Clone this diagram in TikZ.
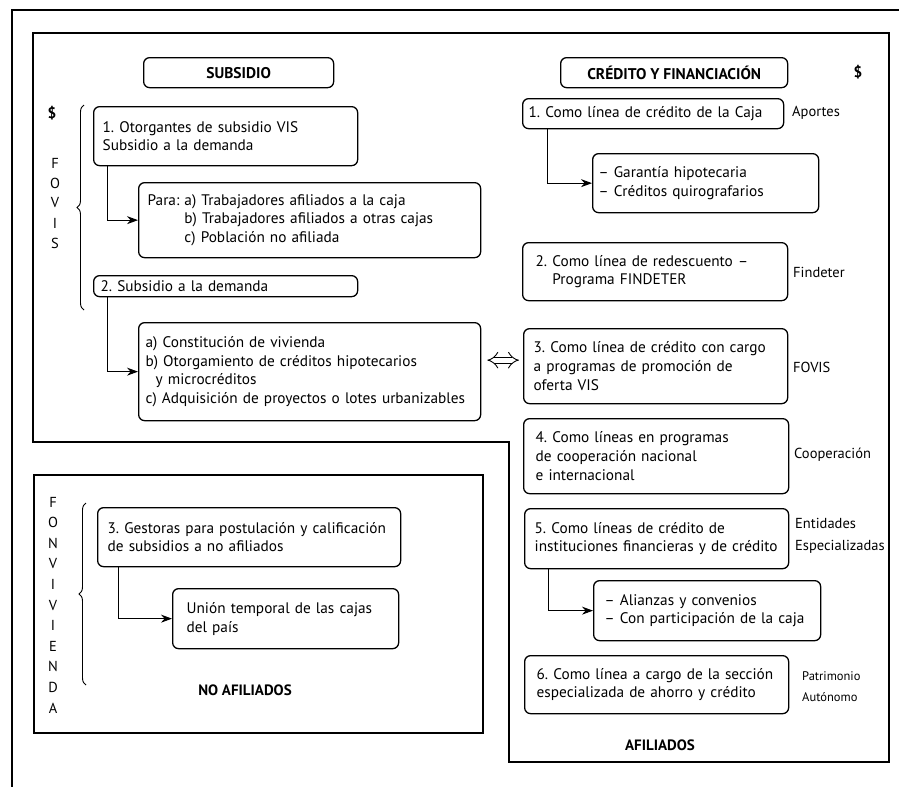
\documentclass[tikz,border=0pt]{standalone}
\usepackage{fontspec}
\setmainfont{PT Sans}
\frenchspacing
\usetikzlibrary{arrows.meta,decorations.pathreplacing,calc}
\newcommand{\boxfont}{\fontsize{15.3}{18.8}\selectfont}
\newcommand{\sidefont}{\fontsize{14.5}{22}\selectfont}
\newcommand{\smallside}{\fontsize{12.5}{21}\selectfont}
\begin{document}
\begin{tikzpicture}[x=1pt,y=-1pt,
  frame/.style={line width=1.2pt},
  box/.style={draw, rounded corners=6pt, line width=1.3pt, anchor=north west,
              align=left, inner ysep=0pt, font=\boxfont},
  titlebox/.style={draw, rounded corners=6pt, line width=1.3pt, anchor=north west,
              inner sep=0pt, font=\fontsize{15.5}{18}\selectfont\bfseries},
  conn/.style={line width=1pt, -{Stealth[length=11pt,width=8pt]}},
  dbl/.style={double, double distance=5pt, line width=0.9pt, {Implies}-{Implies}},
  brc/.style={line width=0.9pt, decorate, decoration={brace, amplitude=7pt}},
  side/.style={anchor=west, align=left, inner sep=0pt, font=\sidefont},
  vletter/.style={inner sep=0pt, font=\fontsize{14.5}{14.5}\selectfont},
  label/.style={inner sep=0pt, font=\fontsize{15}{17}\selectfont\bfseries}]
\useasboundingbox (0,0) rectangle (899,787);
\fill[white] (0,0) rectangle (899,787);

% frames
\draw[frame] (899,10) -- (12,10) -- (12,787);
\draw[frame] (33,33) -- (889,33) -- (889,762) -- (509,762) -- (509,442) -- (33,442) -- cycle;
\draw[frame] (34,475) rectangle (483,733);

% headings
\node[titlebox, minimum width=190pt, minimum height=30pt] (sub) at (143,57) {SUBSIDIO};
\node[titlebox, minimum width=227pt, minimum height=30pt] (cred) at (560,57) {CRÉDITO Y FINANCIACIÓN};

% subsidy column
\node[box, inner xsep=9pt, text width=246pt, minimum height=59pt] (b1) at (93,106)
  {1. Otorgantes de subsidio VIS\\Subsidio a la demanda};
\node[box, inner xsep=9pt, text width=324pt, minimum height=75pt] (para) at (138,182)
  {\mbox{Para: a) Trabajadores afiliados a la caja}\\\mbox{\phantom{Para: }b) Trabajadores afiliados a otras cajas}\\\mbox{\phantom{Para: }c) Población no afiliada}};
\node[box, inner xsep=7pt, text width=250pt, minimum height=21pt] (b2) at (93,275)
  {2. Subsidio a la demanda};
\node[box, inner xsep=7pt, text width=328pt, minimum height=98pt] (ba) at (138,322)
  {a) Constitución de vivienda\\\mbox{b) Otorgamiento de créditos hipotecarios}\\\hspace*{10pt}y microcréditos\\\mbox{c) Adquisición de proyectos o lotes urbanizables}};

% credit column
\node[box, inner xsep=6pt, text width=249pt, minimum height=30pt] (c1) at (522,98)
  {\mbox{1. Como línea de crédito de la Caja}};
\node[box, inner xsep=6pt, text width=214pt, minimum height=59pt] (gar) at (592,153)
  {– Garantía hipotecaria\\– Créditos quirografarios};
\node[box, inner xsep=13pt, text width=239pt, minimum height=58pt] (c2) at (522,242)
  {\mbox{2. Como línea de redescuento –}\\\phantom{2. }Programa FINDETER};
\node[box, inner xsep=10pt, text width=244pt, minimum height=75pt] (c3) at (523,328)
  {\mbox{3. Como línea de crédito con cargo}\\\mbox{a programas de promoción de}\\oferta VIS};
\node[box, inner xsep=12pt, text width=241pt, minimum height=75pt] (c4) at (523,418)
  {\mbox{4. Como líneas en programas}\\de cooperación nacional\\e internacional};
\node[box, inner xsep=10pt, text width=244pt, minimum height=60pt] (c5) at (524,508)
  {\mbox{5. Como líneas de crédito de}\\\mbox{instituciones financieras y de crédito}};
\node[box, inner xsep=11pt, text width=205pt, minimum height=60pt] (ali) at (593,580)
  {\mbox{– Alianzas y convenios}\\\mbox{– Con participación de la caja}};
\node[box, inner xsep=12pt, text width=240pt, minimum height=58pt] (c6) at (524,655)
  {\mbox{6. Como línea a cargo de la sección}\\\mbox{especializada de ahorro y crédito}};

% non-affiliated block
\node[box, inner xsep=10pt, text width=283pt, minimum height=59pt] (g3) at (97,507)
  {\mbox{3. Gestoras para postulación y calificación}\\\mbox{de subsidios a no afiliados}};
\node[box, inner xsep=14pt, text width=198pt, minimum height=60pt] (un) at (172,588)
  {\mbox{Unión temporal de las cajas}\\del país};

% connectors
\draw[conn] ($(b1.south west)+(14,0)$) |- (para.west);
\draw[conn] ($(b2.south west)+(14,0)$) |- (ba.west);
\draw[conn] ($(c1.south west)+(25,0)$) |- (gar.west);
\draw[conn] ($(c5.south west)+(24,0)$) |- (ali.west);
\draw[conn] ($(g3.south west)+(21,0)$) |- (un.west);
\draw[dbl] ($(ba.east |- c3.west)+(6,-6)$) -- ($(c3.west)+(-4,-6)$);

% side labels
\node[inner sep=0pt, font=\boxfont\bfseries] (dl) at (52,113) {\$};
\node[inner sep=0pt, font=\boxfont\bfseries] (dr) at (858,72) {\$};
\node[side] (lap) at (792,113) {Aportes};
\node[side] (lfi) at (793,272) {Findeter};
\node[side] (lfo) at (793,367) {FOVIS};
\node[side] (lco) at (794,455) {Cooperación};
\node[side] (len) at (795,536) {Entidades\\Especializadas};
\node[side, font=\smallside] (lpa) at (802,687) {Patrimonio\\Autónomo};

% vertical names and braces
\foreach \l [count=\i] in {F,O,V,I,S}
  \node[vletter] (fov\i) at (55,143+20*\i) {\l};
\foreach \l [count=\i] in {F,O,N,V,I,V,I,E,N,D,A}
  \node[vletter] (fon\i) at (53,481.4+20.6*\i) {\l};
\draw[brc] (84,310) -- (84,105);
\draw[brc] (86,685) -- (86,503);

% group labels
\node[label] (nafi) at (245,690) {NO AFILIADOS};
\node[label] (afi) at (660,745) {AFILIADOS};
\end{tikzpicture}
\end{document}
